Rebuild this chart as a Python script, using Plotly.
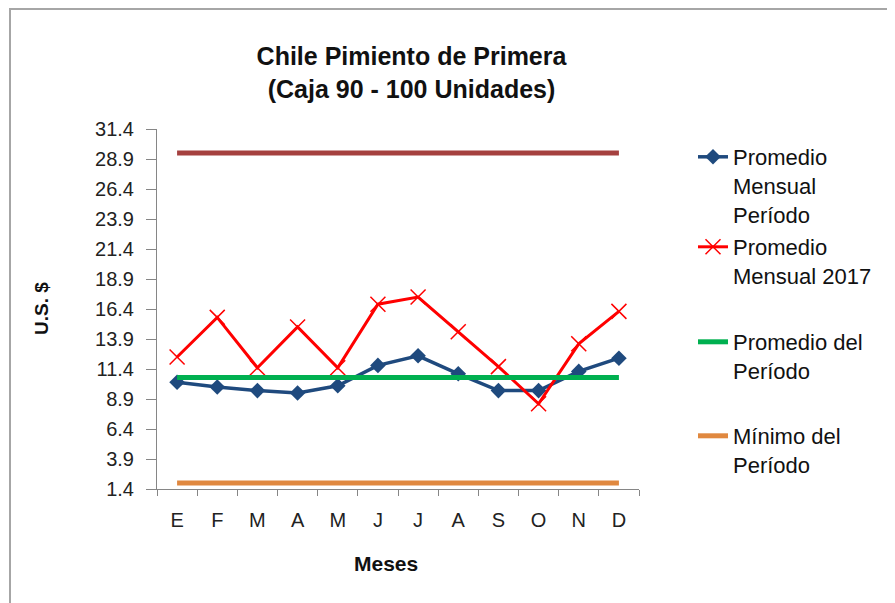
import plotly.graph_objects as go

# Datos
MESES = ["Enero", "Febrero", "Marzo", "Abril", "Mayo", "Junio", "Julio",
         "Agosto", "Septiembre", "Octubre", "Noviembre", "Diciembre"]
LETRAS = ["E", "F", "M", "A", "M", "J", "J", "A", "S", "O", "N", "D"]
PROM_MENSUAL_PERIODO = [10.3, 9.9, 9.6, 9.4, 10.0, 11.7, 12.5, 11.0, 9.6, 9.6, 11.2, 12.3]
PROM_MENSUAL_2017 = [12.4, 15.7, 11.5, 14.9, 11.5, 16.8, 17.4, 14.5, 11.6, 8.5, 13.5, 16.2]
MAXIMO = [29.4] * 12
PROMEDIO = [10.7] * 12
MINIMO = [1.9] * 12
Y_TICKS = [1.4, 3.9, 6.4, 8.9, 11.4, 13.9, 16.4, 18.9, 21.4, 23.9, 26.4, 28.9, 31.4]

FONT = "Liberation Sans"
OFF = 8  # page body margin in the browser
W, H = 895, 603
PW, PH = 482, 360
L, T = 157 - OFF, 129 - OFF
R, B = W - L - PW, H - T - PH


# positions given in screen pixels -> paper coords
def px_x(px):
    return (px - OFF - L) / PW


def px_y(py):
    return (T + PH - (py - OFF)) / PH


fig = go.Figure()

# series, in legend order
fig.add_trace(go.Scatter(x=MESES, y=PROM_MENSUAL_PERIODO, mode="lines+markers",
                         name="Promedio<br>Mensual<br>Período",
                         line=dict(color="#1F4A7E", width=3.5),
                         marker=dict(symbol="diamond", size=12, color="#1F4A7E"),
                         legend="legend"))
fig.add_trace(go.Scatter(x=MESES, y=PROM_MENSUAL_2017, mode="lines+markers",
                         name="Promedio<br>Mensual 2017",
                         line=dict(color="#FF0000", width=3),
                         marker=dict(symbol="x-thin", size=15,
                                     line=dict(color="#FF0000", width=1.5)),
                         legend="legend2"))
fig.add_trace(go.Scatter(x=MESES, y=PROMEDIO, mode="lines", name="Promedio del<br>Período",
                         line=dict(color="#00B050", width=5), legend="legend3"))
fig.add_trace(go.Scatter(x=MESES, y=MINIMO, mode="lines", name="Mínimo del<br>Período",
                         line=dict(color="#E0883F", width=5), legend="legend4"))
# máximo (sin leyenda)
fig.add_trace(go.Scatter(x=MESES, y=MAXIMO, mode="lines", showlegend=False,
                         line=dict(color="#A5413F", width=5)))

leg = dict(font=dict(family=FONT, size=22, color="#111111"), bgcolor="rgba(0,0,0,0)",
           valign="top", xanchor="left", yanchor="top", itemclick=False)
LEG_X = px_x(693)

fig.update_layout(
    width=W, height=H, autosize=False,
    margin=dict(l=L, r=R, t=T, b=B, autoexpand=False),
    paper_bgcolor="white", plot_bgcolor="white",
    font=dict(family=FONT, color="#222222"),
    title=dict(text="<b>Chile Pimiento de Primera<br>(Caja 90 - 100 Unidades)</b>",
               x=(411.5 - OFF) / W, xanchor="center", xref="container",
               y=1 - (65 - OFF) / H, yanchor="top",
               font=dict(family=FONT, size=25, color="#111111")),
    legend=dict(leg, x=LEG_X, y=px_y(136)),
    legend2=dict(leg, x=LEG_X, y=px_y(226)),
    legend3=dict(leg, x=LEG_X, y=px_y(321)),
    legend4=dict(leg, x=LEG_X, y=px_y(415)),
    xaxis=dict(type="category", tickmode="array", tickvals=MESES, ticktext=LETRAS,
               range=[-0.5, 11.5],
               tickson="boundaries", ticks="outside", ticklen=6, tickcolor="#868686",
               showline=True, linecolor="#868686", linewidth=1, showgrid=False,
               ticklabelstandoff=13, automargin=False,
               tickfont=dict(family=FONT, size=20, color="#222222")),
    yaxis=dict(range=[1.4, 31.4], tickmode="array", tickvals=Y_TICKS,
               ticktext=[f"{v:.1f}" for v in Y_TICKS],
               ticks="outside", ticklen=10, tickcolor="#868686",
               showline=True, linecolor="#868686", linewidth=1, showgrid=False,
               zeroline=False, ticklabelstandoff=8, automargin=False,
               tickfont=dict(family=FONT, size=20, color="#222222")),
    annotations=[
        dict(text="<b>U.S. $</b>", x=px_x(41), y=0.5, xref="paper", yref="paper",
             textangle=-90, showarrow=False, xanchor="center", yanchor="middle",
             font=dict(family=FONT, size=19, color="#111111")),
        dict(text="<b>Meses</b>", x=px_x(386), y=px_y(563), xref="paper", yref="paper",
             showarrow=False, xanchor="center", yanchor="middle",
             font=dict(family=FONT, size=21, color="#111111")),
    ],
    shapes=[
        dict(type="rect", xref="paper", yref="paper",
             x0=px_x(10), x1=px_x(W + 40), y0=px_y(H + 40), y1=px_y(9),
             line=dict(color="#A6A6A6", width=2), layer="below"),
    ],
)

fig.write_html("out.html")
